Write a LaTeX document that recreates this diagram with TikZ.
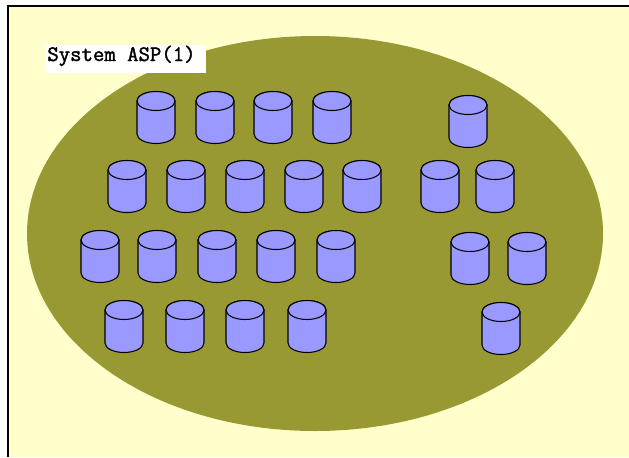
\documentclass[tikz,border=0pt]{standalone}
\usepackage{fontspec}
\setmonofont[FakeBold=1.6,BoldFont={Latin Modern Mono},BoldFeatures={FakeBold=1.6}]{Latin Modern Mono}
\definecolor{pagebg}{HTML}{FFFFCC}
\definecolor{olive}{HTML}{999933}
\definecolor{disk}{HTML}{9999FF}
\tikzset{
  diskline/.style={draw=black,line width=0.6pt,fill=disk},
  pics/drum/.style={code={
    \path[diskline] (-19,10) -- (-19,43) arc[start angle=180,end angle=0,x radius=19,y radius=9.5] -- (19,10) arc[start angle=0,end angle=-180,x radius=19,y radius=9.5] -- cycle;
    \path[diskline] (0,10) ellipse[x radius=19,y radius=9.5];
  }}
}
\begin{document}
\begin{tikzpicture}[x=0.02cm,y=-0.02cm]
\useasboundingbox (0,0) rectangle (629,457);
\fill[white] (0,0) rectangle (629,457);
\fill[pagebg] (8,6) rectangle (629,457);
\draw[black,line width=0.6pt] (8,457) -- (8,6) -- (629,6);
\fill[olive] (315,233.5) ellipse[x radius=288,y radius=197.5];
\fill[white] (46,45) rectangle (206,73);
\node[anchor=base west,inner sep=0pt,font=\ttfamily\fontsize{12.6pt}{14pt}\selectfont] (title) at (47,61) {System ASP(1)};
\foreach \x/\y in {156/91,215/91,273/91,332/91,468/95,
  127/160,186/160,245/160,304/160,362/160,440/160,495/160,
  100/230,157/230,217/230,276/230,336/230,470/232,527/232,
  124/300,185/300,245/300,307/300,501/302}
  \pic at (\x,\y) {drum};
\end{tikzpicture}
\end{document}
